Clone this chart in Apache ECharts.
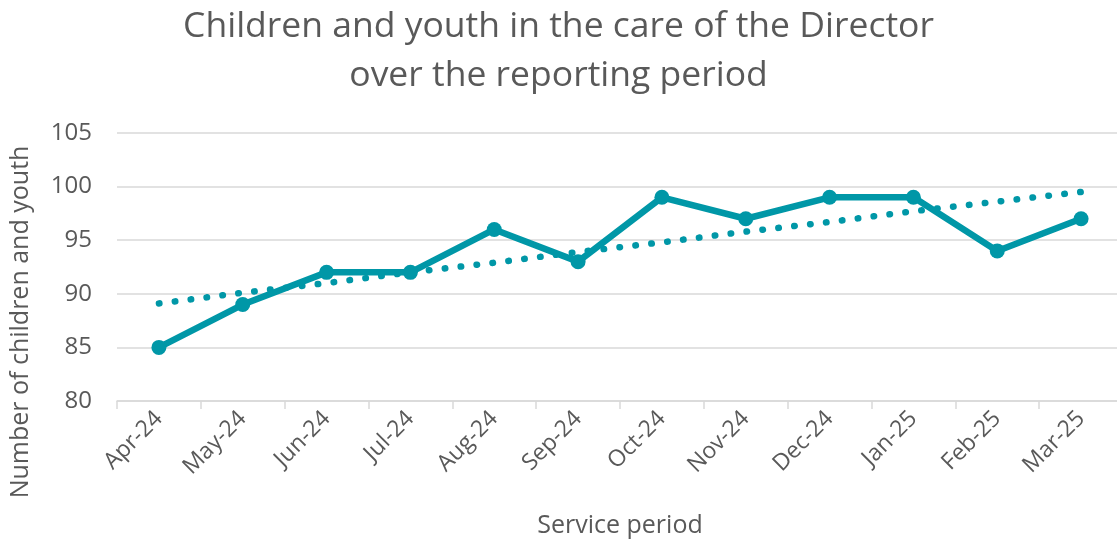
<!DOCTYPE html>
<html><head><meta charset="utf-8">
<script src="https://cdn.jsdelivr.net/npm/echarts@6/dist/echarts.min.js"></script>
<style>html,body{margin:0;padding:0;background:#fff}#c{width:1117px;height:543px}</style>
</head><body><div id="c"></div>
<script>
const categories = ['Apr-24','May-24','Jun-24','Jul-24','Aug-24','Sep-24','Oct-24','Nov-24','Dec-24','Jan-25','Feb-25','Mar-25'];
const children = [85, 89, 92, 92, 96, 93, 99, 97, 99, 99, 94, 97];
const trend = [89.1, 90.1, 91.0, 92.0, 92.9, 93.9, 94.8, 95.8, 96.7, 97.7, 98.6, 99.5];
const yTicks = {min: 80, max: 105, interval: 5};
const titleLines = ['Children and youth in the care of the Director', 'over the reporting period'];
const color = '#0097A7';
const font = 'Open Sans';
const chart = echarts.init(document.getElementById('c'));
chart.setOption({
  animation: false,
  title: {text: titleLines.join('\n'), left: 'center', top: -3,
    textStyle: {fontFamily: font, fontWeight: 'normal', fontSize: 35.5, lineHeight: 49, color: '#595959'}},
  grid: {left: 117, top: 133, width: 1006, height: 268, outerBoundsMode: 'none', containLabel: false},
  xAxis: {type: 'category', data: categories, boundaryGap: true,
    name: 'Service period', nameLocation: 'middle', nameGap: 112,
    nameTextStyle: {fontFamily: font, fontSize: 25, color: '#595959'},
    axisLine: {lineStyle: {color: '#d9d9d9', width: 1.5}},
    axisTick: {show: true, length: 8, lineStyle: {color: '#d9d9d9', width: 1.5}},
    axisLabel: {rotate: 45, fontFamily: font, fontSize: 23, color: '#595959', margin: 14, interval: 0}},
  yAxis: {type: 'value', min: yTicks.min, max: yTicks.max, interval: yTicks.interval,
    name: 'Number of children and youth', nameLocation: 'middle', nameGap: 84,
    nameTextStyle: {fontFamily: font, fontSize: 25, color: '#595959', padding: [0, 110, 0, 0]},
    axisLine: {show: false}, axisTick: {show: false},
    splitLine: {lineStyle: {color: '#d9d9d9', width: 1.5}},
    axisLabel: {fontFamily: font, fontSize: 24, color: '#595959', margin: 25}},
  series: [
    {name: 'Children', type: 'line', data: children, symbol: 'circle', symbolSize: 15,
     itemStyle: {color: color}, lineStyle: {color: color, width: 6.5}, z: 3},
    {name: 'Trend', type: 'line', data: trend, symbol: 'none', smooth: false,
     lineStyle: {color: color, width: 6.5, type: [0.5, 15.5], cap: 'round'}, z: 2}
  ]
});
</script></body></html>
